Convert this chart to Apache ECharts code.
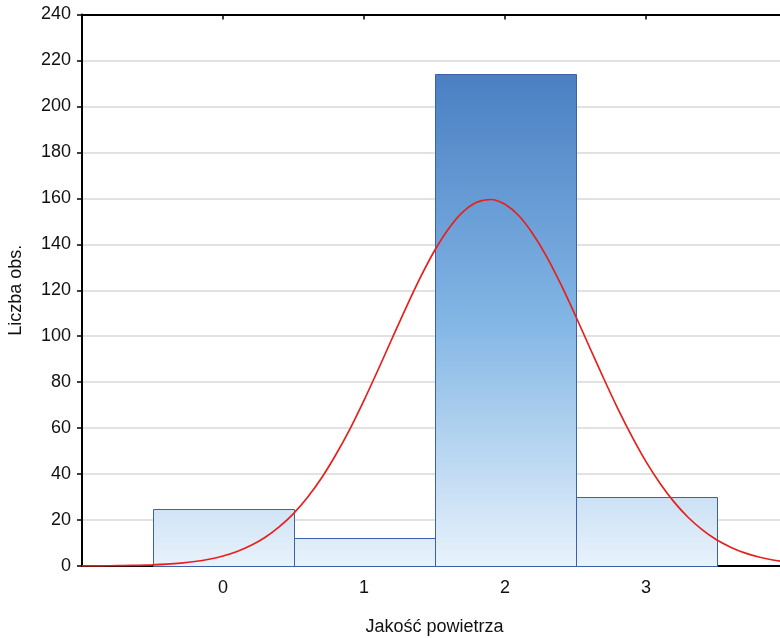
<!DOCTYPE html>
<html>
<head>
<meta charset="utf-8">
<script src="https://cdn.jsdelivr.net/npm/echarts@6/dist/echarts.min.js"></script>
<style>
html,body{margin:0;padding:0;background:#fff;overflow:hidden;}
#main{width:780px;height:638px;}
</style>
</head>
<body>
<div id="main"></div>
<script>
// Histogram categories (bin centres) and counts
var categories = [0, 1, 2, 3];
var counts = [25, 12, 214, 30];
// Fitted normal curve
var curveX = [-1.0,-0.9,-0.8,-0.7,-0.6,-0.5,-0.4,-0.3,-0.2,-0.1,0.0,0.1,0.2,0.3,0.4,0.5,0.6,0.7,0.8,0.9,1.0,1.1,1.2,1.3,1.4,1.5,1.6,1.7,1.8,1.9,2.0,2.1,2.2,2.3,2.4,2.5,2.6,2.7,2.8,2.9,3.0,3.1,3.2,3.3,3.4,3.5,3.6,3.7,3.8,3.9,4.0];
var curveY = [0.04,0.06,0.11,0.18,0.31,0.50,0.81,1.27,1.95,2.95,4.36,6.32,8.99,12.5,17.1,22.8,29.9,38.4,48.4,59.6,72.1,85.4,99.1,112.7,125.6,137.2,146.8,154.0,158.3,159.5,157.4,152.3,144.3,134.1,122.1,108.9,95.2,81.6,68.5,56.4,45.4,35.9,27.8,21.1,15.7,11.4,8.2,5.7,3.9,2.6,1.7];
var yTicks = [0,20,40,60,80,100,120,140,160,180,200,220,240];
var xTickLabels = ['0','1','2','3'];

var chart = echarts.init(document.getElementById('main'), null, {renderer:'canvas'});
var FONT = '"Liberation Sans", Arial, sans-serif';
var maxCount = Math.max.apply(null, counts);

var barData = categories.map(function(c,i){ return [c, counts[i]]; });
var curveData = curveX.map(function(x,i){ return [x, curveY[i]]; });

var option = {
  backgroundColor: '#ffffff',
  animation: false,
  grid: {left: 82, top: 14.5, width: 705, height: 551.5, containLabel: false, outerBoundsMode: 'none'},
  xAxis: [{
    type: 'value', min: -1, max: 4, interval: 1, position: 'bottom',
    name: 'Jakość powietrza', nameLocation: 'middle', nameGap: 52,
    nameTextStyle: {fontFamily: FONT, fontSize: 18, color: '#111'},
    axisLine: {show: true, onZero: false, lineStyle: {color: '#000', width: 2}},
    axisTick: {show: true, inside: true, length: 5, lineStyle: {color: '#000', width: 1.5}},
    axisLabel: {fontFamily: FONT, fontSize: 18, color: '#111', margin: 13,
      showMinLabel: false, showMaxLabel: false,
      formatter: function(v){ var i = categories.indexOf(v); return i >= 0 ? xTickLabels[i] : ''; }},
    splitLine: {show: false}
  },{
    type: 'value', min: -1, max: 4, interval: 1, position: 'top',
    axisLine: {show: true, onZero: false, lineStyle: {color: '#000', width: 2}},
    axisTick: {show: true, inside: true, length: 5, lineStyle: {color: '#000', width: 1.5}},
    axisLabel: {show: false},
    splitLine: {show: false}
  }],
  yAxis: {
    type: 'value', min: yTicks[0], max: yTicks[yTicks.length-1], interval: 20,
    name: 'Liczba obs.', nameLocation: 'middle', nameGap: 57, nameRotate: 90,
    nameTextStyle: {fontFamily: FONT, fontSize: 18, color: '#111'},
    axisLine: {show: true, onZero: false, lineStyle: {color: '#000', width: 2}},
    axisTick: {show: true, inside: false, length: 5, lineStyle: {color: '#000', width: 1.5}},
    axisLabel: {fontFamily: FONT, fontSize: 18, color: '#111', margin: 11},
    splitLine: {show: true, lineStyle: {color: '#e2e2e2', width: 2}}
  },
  series: [{
    type: 'custom',
    xAxisIndex: 0,
    z: 2,
    data: barData,
    renderItem: function(params, api){
      var x = api.value(0), y = api.value(1);
      var p1 = api.coord([x - 0.5, y]);
      var p2 = api.coord([x + 0.5, 0]);
      var gTop = api.coord([0, maxCount])[1];
      var gBot = api.coord([0, 0])[1];
      var grad = new echarts.graphic.LinearGradient(0, gTop, 0, gBot, [
        {offset: 0, color: '#4a7fc3'},
        {offset: 0.5, color: '#82b6e5'},
        {offset: 1, color: '#e8f2fb'}
      ], true);
      return {
        type: 'rect',
        shape: {x: Math.round(p1[0]) + 0.5, y: Math.round(p1[1]) + 0.5, width: Math.round(p2[0] - p1[0]), height: Math.round(p2[1] - p1[1])},
        style: {fill: grad, stroke: '#3c5fae', lineWidth: 1}
      };
    }
  },{
    type: 'line',
    xAxisIndex: 0,
    z: 5,
    data: curveData,
    smooth: 0.3,
    symbol: 'none',
    clip: true,
    lineStyle: {color: '#e8201c', width: 1.7}
  }]
};
chart.setOption(option);
</script>
</body>
</html>
